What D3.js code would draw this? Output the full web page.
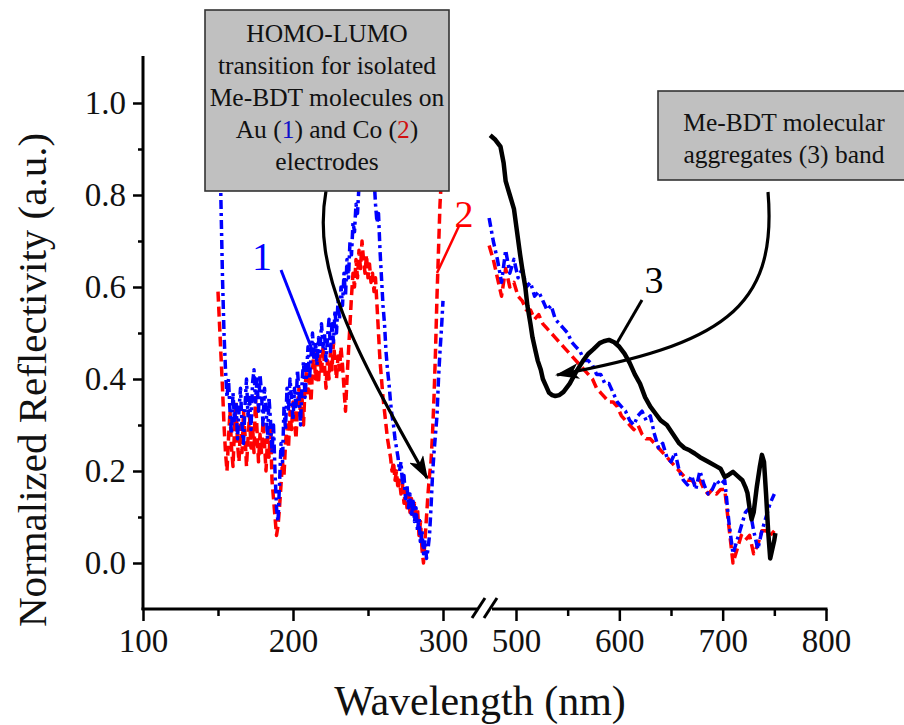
<!DOCTYPE html>
<html>
<head>
<meta charset="utf-8">
<script src="https://cdn.jsdelivr.net/npm/d3@7"></script>
</head>
<body style="margin:0">
<svg id="chart" width="904" height="725" font-family="Liberation Serif" style="font-family: 'Liberation Serif', serif"></svg>
<script>
// ---------------- DATA ----------------
const wlLeft = [
  150,151,152,153,154,155,156,157,158,159,
  160,161,162,163,164,165,166,167,168,169,
  170,171,172,173,174,175,176,177,178,179,
  180,181,182,183,184,185,186,187,188,189,
  190,191,192,193,194,195,196,197,198,199,
  200,201,202,203,204,205,206,207,208,209,
  210,211,212,213,214,215,216,217,218,219,
  220,221,222,223,224,225,226,227,228,229,
  230,231,232,233,234,235,236,237,238,239,
  240,241,242,243,244,245,246,247,248,249,
  250,251,252,253,254,255,256,257,258,259,
  260,261,262,263,264,265,266,267,268,269,
  270,271,272,273,274,275,276,277,278,279,
  280,281,282,283,284,285,286,287,288,289,
  290,291,292,293,294,295,296,297,298,299,
  300
];
// curve 1: Me-BDT on Au (blue, dash-dot)
const auLeft = [
  1.05,0.95,0.78,0.62,0.50,0.42,0.36,0.40,0.33,0.28,
  0.37,0.31,0.35,0.27,0.33,0.38,0.30,0.26,0.34,0.40,
  0.32,0.36,0.29,0.39,0.42,0.35,0.40,0.33,0.41,0.37,
  0.30,0.38,0.34,0.27,0.36,0.31,0.24,0.30,0.20,0.12,
  0.09,0.17,0.26,0.22,0.34,0.29,0.38,0.33,0.40,0.36,
  0.31,0.38,0.34,0.42,0.37,0.30,0.39,0.44,0.36,0.41,
  0.47,0.40,0.45,0.50,0.44,0.48,0.43,0.49,0.46,0.52,
  0.47,0.50,0.44,0.49,0.53,0.46,0.52,0.48,0.55,0.50,
  0.57,0.53,0.60,0.56,0.63,0.58,0.66,0.62,0.70,0.67,
  0.74,0.72,0.78,0.76,0.82,0.86,0.90,0.87,0.92,0.88,
  0.86,0.90,0.85,0.81,0.84,0.78,0.74,0.76,0.68,0.62,
  0.56,0.52,0.46,0.42,0.39,0.35,0.32,0.30,0.27,0.25,
  0.23,0.20,0.22,0.17,0.19,0.14,0.17,0.12,0.15,0.10,
  0.14,0.09,0.12,0.07,0.10,0.04,0.07,0.02,0.05,0.01,
  0.03,0.06,0.12,0.19,0.24,0.28,0.32,0.40,0.46,0.51,
  0.57
];
// curve 2: Me-BDT on Co (red, dashed)
const coLeft = [
  0.59,0.52,0.45,0.38,0.30,0.24,0.20,0.27,0.33,0.25,
  0.21,0.29,0.35,0.26,0.22,0.30,0.24,0.33,0.28,0.21,
  0.27,0.32,0.25,0.30,0.24,0.36,0.29,0.22,0.28,0.24,
  0.31,0.26,0.20,0.27,0.23,0.30,0.18,0.14,0.10,0.06,
  0.08,0.12,0.17,0.22,0.19,0.26,0.30,0.25,0.33,0.29,
  0.35,0.31,0.27,0.34,0.38,0.32,0.36,0.30,0.38,0.42,
  0.37,0.40,0.35,0.42,0.46,0.40,0.44,0.39,0.45,0.41,
  0.47,0.43,0.38,0.44,0.40,0.46,0.42,0.48,0.44,0.40,
  0.45,0.42,0.47,0.43,0.38,0.33,0.40,0.46,0.52,0.58,
  0.63,0.60,0.66,0.62,0.68,0.64,0.70,0.66,0.63,0.67,
  0.62,0.65,0.61,0.63,0.59,0.62,0.56,0.50,0.44,0.40,
  0.36,0.33,0.30,0.27,0.25,0.23,0.20,0.22,0.18,0.20,
  0.16,0.18,0.15,0.17,0.13,0.16,0.12,0.15,0.11,0.14,
  0.10,0.13,0.09,0.12,0.06,0.09,0.03,0.00,0.05,0.10,
  0.15,0.19,0.22,0.28,0.36,0.46,0.58,0.68,0.78,0.84,
  0.88
];
const wlRight = [
  474,478,482,486,490,494,498,502,506,510,
  514,518,522,526,530,534,538,542,546,550,
  554,558,562,566,570,574,578,582,586,590,
  594,598,602,606,610,614,618,622,626,630,
  634,638,642,646,650,654,658,662,666,670,
  674,678,682,686,690,694,698,702,706,710,
  714,718,722,726,730,734,738,742,746,750
];
const auRight = [
  0.75,0.70,0.66,0.61,0.68,0.63,0.66,0.62,0.64,0.60,
  0.61,0.58,0.59,0.57,0.55,0.56,0.53,0.52,0.51,0.50,
  0.48,0.47,0.46,0.44,0.44,0.43,0.41,0.41,0.39,0.39,
  0.37,0.35,0.34,0.33,0.31,0.30,0.32,0.33,0.31,0.32,
  0.28,0.25,0.26,0.23,0.22,0.24,0.20,0.18,0.17,0.19,
  0.16,0.20,0.17,0.15,0.16,0.18,0.17,0.18,0.09,0.02,
  0.05,0.08,0.11,0.12,0.07,0.03,0.07,0.10,0.13,0.15
];
const coRight = [
  0.69,0.66,0.62,0.58,0.64,0.60,0.61,0.58,0.57,0.55,
  0.55,0.53,0.54,0.52,0.51,0.50,0.49,0.48,0.47,0.46,
  0.45,0.44,0.43,0.42,0.41,0.40,0.38,0.37,0.36,0.35,
  0.35,0.34,0.32,0.31,0.30,0.29,0.30,0.28,0.27,0.27,
  0.26,0.25,0.24,0.23,0.22,0.21,0.20,0.19,0.18,0.18,
  0.17,0.18,0.16,0.15,0.16,0.15,0.16,0.16,0.08,0.00,
  0.03,0.06,0.05,0.06,0.02,0.04,0.07,0.07,0.06,0.07
];
// curve 3: molecular aggregates (black, solid)
const wlAgg = [
  475,480,485,488,490,494,498,501,504,506,
  509,511,514,516,519,521,524,526,529,532,
  535,538,542,546,552,558,565,570,575,581,
  585,590,595,600,605,610,615,620,625,630,
  635,640,646,652,658,663,668,673,678,686,
  694,698,702,706,710,714,719,722,724,726,
  728,730,733,736,738,740,742,744,746,748,
  750,751
];
const aggR = [
  0.93,0.92,0.905,0.87,0.83,0.80,0.77,0.72,0.67,0.64,
  0.60,0.56,0.52,0.49,0.46,0.44,0.42,0.40,0.385,0.37,
  0.365,0.363,0.365,0.372,0.39,0.415,0.44,0.455,0.465,0.478,
  0.482,0.485,0.48,0.47,0.455,0.435,0.41,0.39,0.36,0.34,
  0.325,0.31,0.30,0.28,0.26,0.25,0.245,0.238,0.23,0.22,
  0.21,0.205,0.187,0.192,0.198,0.19,0.18,0.165,0.152,0.12,
  0.095,0.11,0.165,0.21,0.235,0.22,0.15,0.07,0.01,0.03,
  0.05,0.065
];
const yTicks = [0.0, 0.2, 0.4, 0.6, 0.8, 1.0];
const yMinorTicks = [0.1, 0.3, 0.5, 0.7, 0.9];
const xTicksLeft = [100, 200, 300];
const xMinorLeft = [150, 250];
const xTicksRight = [500, 600, 700, 800];
const xMinorRight = [550, 650, 750];

// ---------------- LAYOUT ----------------
const svg = d3.select("#chart");
const FONT = "Liberation Serif";
const plotTop = 57, plotBottom = 609, axisLeft = 143, breakX = 485, axisRight = 826;

const y = d3.scaleLinear().domain([-0.1, 1.1]).range([plotBottom, plotTop]);
const xL = d3.scaleLinear().domain([100, 328]).range([axisLeft, breakX]);
const xR = d3.scaleLinear().domain([470, 800]).range([breakX, axisRight]);

function styleText(sel, size, color) {
  sel.attr("font-family", FONT).attr("font-size", size)
     .style("font-family", FONT).style("font-size", size + "px")
     .attr("fill", color || "#111");
  return sel;
}

// ---------------- AXES ----------------
const gY = svg.append("g").attr("transform", `translate(${axisLeft},0)`);
gY.call(d3.axisLeft(y).tickValues(yTicks).tickFormat(d3.format(".1f")).tickSize(10).tickPadding(7));
gY.append("g").call(d3.axisLeft(y).tickValues(yMinorTicks).tickFormat("").tickSize(5));
gY.selectAll(".domain").remove();
gY.append("line").attr("x1", 0).attr("x2", 0).attr("y1", plotTop - 1).attr("y2", plotBottom + 1)
  .attr("stroke", "#000").attr("stroke-width", 3);
gY.selectAll(".tick line").attr("stroke", "#000").attr("stroke-width", 2.5);

const gX = svg.append("g").attr("transform", `translate(0,${plotBottom})`);
const gXL = gX.append("g").call(d3.axisBottom(xL).tickValues(xTicksLeft).tickFormat(d3.format("d")).tickSize(12).tickPadding(8));
gXL.append("g").call(d3.axisBottom(xL).tickValues(xMinorLeft).tickFormat("").tickSize(7));
const gXR = gX.append("g").call(d3.axisBottom(xR).tickValues(xTicksRight).tickFormat(d3.format("d")).tickSize(12).tickPadding(8));
gXR.append("g").call(d3.axisBottom(xR).tickValues(xMinorRight).tickFormat("").tickSize(7));
gX.selectAll(".domain").remove();
gX.selectAll(".tick line").attr("stroke", "#000").attr("stroke-width", 2.5);
// make the axis groups use the serif font too
svg.selectAll("g").attr("font-family", FONT);
styleText(gY.selectAll(".tick text"), 33);
styleText(gX.selectAll(".tick text"), 33);

// axis line with break
gX.append("line").attr("x1", axisLeft - 1.5).attr("x2", breakX - 8).attr("y1", 0).attr("y2", 0)
  .attr("stroke", "#000").attr("stroke-width", 3);
gX.append("line").attr("x1", breakX + 7).attr("x2", axisRight + 1.5).attr("y1", 0).attr("y2", 0)
  .attr("stroke", "#000").attr("stroke-width", 3);
[-6, 6].forEach(dx => {
  gX.append("line")
    .attr("x1", breakX + dx - 7).attr("y1", 9)
    .attr("x2", breakX + dx + 6).attr("y2", -11)
    .attr("stroke", "#000").attr("stroke-width", 3);
});

// axis titles
styleText(svg.append("text").attr("transform", "translate(46,380) rotate(-90)")
  .attr("text-anchor", "middle"), 41).text("Normalized Reflectivity (a.u.)");
styleText(svg.append("text").attr("x", 480).attr("y", 715)
  .attr("text-anchor", "middle"), 42).text("Wavelength (nm)");

// ---------------- DATA LINES ----------------
const lineL = d3.line().x(d => xL(d[0])).y(d => y(d[1]));
const lineR = d3.line().x(d => xR(d[0])).y(d => y(d[1]));
const zip = (a, b) => a.map((v, i) => [v, b[i]]);

function drawSeries(gen, data, color, dash, width) {
  svg.append("path").datum(data).attr("d", gen)
    .attr("fill", "none").attr("stroke", color).attr("stroke-width", width)
    .attr("stroke-dasharray", dash).attr("stroke-linejoin", "round");
}
drawSeries(lineL, zip(wlLeft, coLeft), "#ff0000", "10,5", 3.5);
drawSeries(lineR, zip(wlRight, coRight), "#ff0000", "10,5", 3.5);
drawSeries(lineL, zip(wlLeft, auLeft), "#0000ff", "9,4,3,4", 3.5);
drawSeries(lineR, zip(wlRight, auRight), "#0000ff", "9,4,3,4", 3.5);
drawSeries(lineR, zip(wlAgg, aggR), "#000000", null, 4.5);

// ---------------- ANNOTATIONS ----------------
const defs = svg.append("defs");
defs.append("marker").attr("id", "ah").attr("viewBox", "0 0 24 16")
  .attr("refX", 22).attr("refY", 8).attr("markerWidth", 24).attr("markerHeight", 16)
  .attr("markerUnits", "userSpaceOnUse").attr("orient", "auto")
  .append("path").attr("d", "M0,0 L24,8 L0,16 L6,8 Z").attr("fill", "#000");

svg.append("path").attr("d", "M326,191 C312,270 352,345 427,478")
  .attr("fill", "none").attr("stroke", "#000").attr("stroke-width", 3.2).attr("marker-end", "url(#ah)");
svg.append("path").attr("d", "M768,192 C778,310 720,345 557,375")
  .attr("fill", "none").attr("stroke", "#000").attr("stroke-width", 3.2).attr("marker-end", "url(#ah)");

// curve labels
svg.append("line").attr("x1", 281).attr("y1", 270).attr("x2", 313).attr("y2", 352)
  .attr("stroke", "#0000ff").attr("stroke-width", 3);
styleText(svg.append("text").attr("x", 262).attr("y", 270).attr("text-anchor", "middle"), 40, "#0000ff").text("1");
svg.append("line").attr("x1", 459).attr("y1", 226).attr("x2", 437).attr("y2", 273)
  .attr("stroke", "#ff0000").attr("stroke-width", 2.5);
styleText(svg.append("text").attr("x", 464).attr("y", 227).attr("text-anchor", "middle"), 38, "#ff0000").text("2");
svg.append("line").attr("x1", 642).attr("y1", 300).attr("x2", 617).attr("y2", 343)
  .attr("stroke", "#000").attr("stroke-width", 3);
styleText(svg.append("text").attr("x", 654).attr("y", 293).attr("text-anchor", "middle"), 38, "#000").text("3");

// text boxes
function box(x, yTop, w, h) {
  svg.append("rect").attr("x", x).attr("y", yTop).attr("width", w).attr("height", h)
    .attr("fill", "#c0c0c0").attr("stroke", "#333").attr("stroke-width", 1.6);
}
box(205, 10, 244, 181);
const t1 = styleText(svg.append("text").attr("text-anchor", "middle"), 25.5);
const lines1 = ["HOMO-LUMO", "transition for isolated", "Me-BDT molecules on"];
lines1.forEach((s, i) => t1.append("tspan").attr("x", 327).attr("y", 42 + i * 32).text(s));
const l4 = t1.append("tspan").attr("x", 327).attr("y", 138);
l4.append("tspan").text("Au (");
l4.append("tspan").attr("fill", "#1010c8").text("1");
l4.append("tspan").text(") and Co (");
l4.append("tspan").attr("fill", "#d01010").text("2");
l4.append("tspan").text(")");
t1.append("tspan").attr("x", 327).attr("y", 170).text("electrodes");

box(658, 91, 250, 89);
const t2 = styleText(svg.append("text").attr("text-anchor", "middle"), 25.5);
t2.append("tspan").attr("x", 784).attr("y", 131).text("Me-BDT molecular");
t2.append("tspan").attr("x", 784).attr("y", 163).text("aggregates (3) band");
</script>
</body>
</html>
